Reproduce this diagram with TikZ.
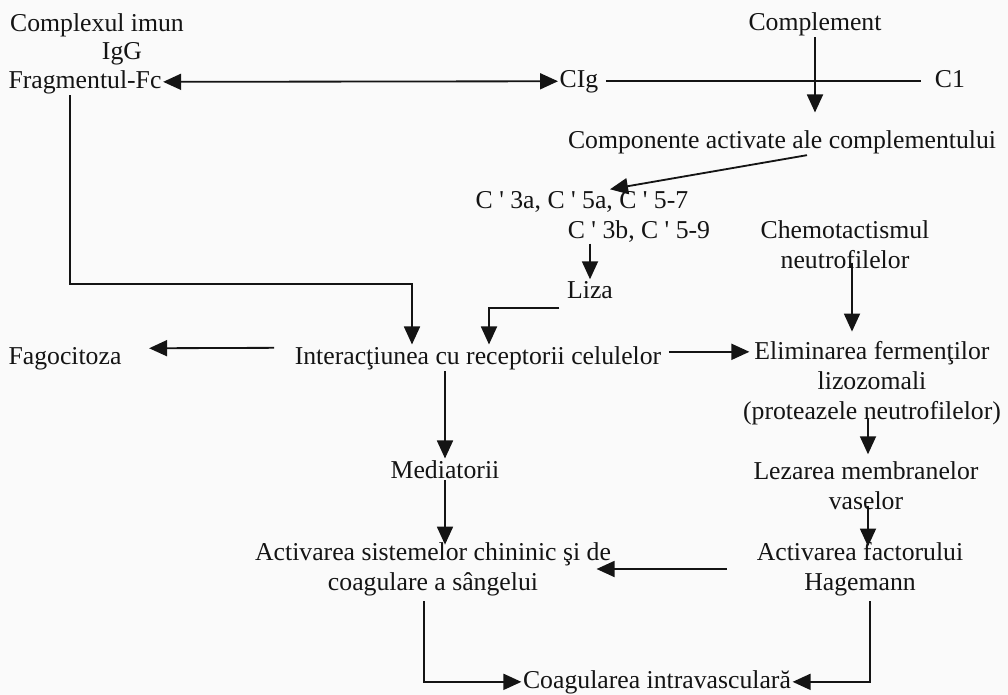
\documentclass[tikz,border=0pt]{standalone}
\usepackage{fontspec}
\setmainfont{Liberation Serif}
\usepackage{tikz}
\usetikzlibrary{arrows.meta,calc}
\definecolor{ink}{HTML}{141414}
\definecolor{paper}{HTML}{FAFAFA}
\tikzset{
  txt/.style={text=ink, font=\fontsize{18.3}{21.3}\selectfont, inner sep=1pt},
  btxt/.style={txt, anchor=base},
  mtxt/.style={txt, align=center},
  seg/.style={draw=ink, line width=1.3pt},
  arr/.style={seg, -{Triangle[length=4.5mm,width=4mm]}},
  darr/.style={seg, {Triangle[length=4.5mm,width=4mm]}-{Triangle[length=4.5mm,width=4mm]}}
}

\begin{document}
\begin{tikzpicture}[x=0.25mm, y=-0.25mm]
  \fill[paper] (0,0) rectangle (1008,695);
  \useasboundingbox (0,0) rectangle (1008,695);

  % top row
  \node[btxt] (imun) at (97,31) {Complexul imun};
  \node[btxt] (igg) at (122,59) {IgG};
  \node[btxt] (fc) at (85,88) {Fragmentul-Fc};
  \node[btxt] (cig) at (579,87) {CIg};
  \node[btxt] (c1) at (950,87) {C1};
  \node[btxt] (compl) at (815,30) {Complement};
  \node[btxt] (activ) at (782,148) {Componente activate ale complementului};

  % complement fragments
  \node[btxt] (c3a) at (582,208) {C \textquotesingle\ 3a, C \textquotesingle\ 5a, C \textquotesingle\ 5-7};
  \node[btxt] (c3b) at (639,238) {C \textquotesingle\ 3b, C \textquotesingle\ 5-9};
  \node[btxt] (liza) at (590,298) {Liza};
  \node[mtxt] (chemo) at (845,245) {Chemotactismul\\neutrofilelor};

  % middle row
  \node[btxt] (fago) at (65,364) {Fagocitoza};
  \node[btxt] (inter) at (478,364) {Interacţiunea cu receptorii celulelor};
  \node[mtxt] (elim) at (872,383) {Eliminarea fermenţilor\\lizozomali\\(proteazele neutrofilelor)};
  \node[btxt] (medi) at (445,478) {Mediatorii};
  \node[mtxt] (lez) at (866,486) {Lezarea membranelor\\vaselor};

  % bottom rows
  \node[mtxt] (sist) at (433,569) {Activarea sistemelor chininic şi de\\coagulare a sângelui};
  \node[mtxt] (hage) at (860,569) {Activarea factorului\\Hagemann};
  \node[btxt] (coag) at (657,688) {Coagularea intravasculară};

  \coordinate (fcDrop) at (70,284);
  \coordinate (fcTurn) at (412,284);

  % connectors
  \draw[darr] (fc.east) -- (cig.west);
  \draw[seg, shorten <=1.5mm, shorten >=3mm] (cig.east) -- (cig.east -| c1.west);
  \draw[arr, shorten >=4mm] (compl.south) -- (compl.south |- activ.north);
  \draw[arr] ($(activ.south)+(25,0)$) -- ($(c3a.north)+(28,0)$);
  \draw[arr] (c3b.south -| liza.north) -- (liza.north);
  \draw[arr] ($(liza.south west)+(-6,8)$) -| ($(inter.north)+(11,0)$);
  \draw[arr] (fc.south -| fcDrop) -- (fcDrop) -- (fcTurn) -- (fcTurn |- inter.north);
  \draw[arr] ($(inter.west)+(-19,-10)$) -- ($(fago.east)+(26,-10)$);
  \draw[arr, shorten >=-2mm] ($(inter.east)+(6,-6)$) -- ($(inter.east -| elim.west)+(0,-6)$);
  \draw[arr, shorten >=2mm] ($(chemo.south)+(7,-8)$) -- ($(elim.north)+(-20,0)$);
  \draw[arr, shorten >=1.5mm] ($(elim.south)+(-4,-8)$) -- ($(lez.north)+(2,0)$);
  \draw[arr, shorten >=-1.5mm] ($(lez.south)+(2,-6)$) -- ($(hage.north)+(8,0)$);
  \draw[arr] (inter.south -| medi.north) -- (medi.north);
  \draw[arr, shorten >=-1mm] (medi.south) -- (medi.south |- sist.north);
  \draw[arr] ($(hage.west)+(-28,0)$) -- ($(sist.east)+(-16,0)$);
  \draw[arr] ($(sist.south)+(-9,4)$) |- (coag.west);
  \draw[arr] ($(hage.south)+(10,4)$) |- (coag.east);
\end{tikzpicture}
\end{document}
